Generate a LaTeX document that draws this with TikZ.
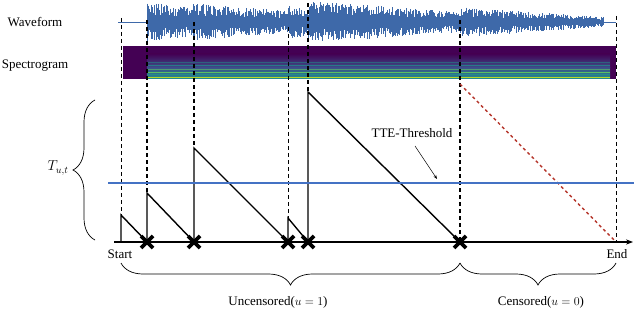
\documentclass[tikz,border=0pt]{standalone}
\usepackage{fontspec}
\setmainfont{Liberation Serif}
\usepackage{xcolor}
\usetikzlibrary{decorations.pathreplacing,arrows.meta}
\definecolor{wave}{HTML}{3E69A9}
\definecolor{specdark}{HTML}{440154}
\definecolor{specblue}{HTML}{3B528B}
\definecolor{specteal}{HTML}{21918C}
\definecolor{specgreen}{HTML}{5EC962}
\definecolor{specyellow}{HTML}{C8E020}
\definecolor{thresh}{HTML}{4472C4}
\definecolor{cens}{HTML}{B5352A}

\begin{document}
\begin{tikzpicture}[x=1pt,y=-1pt,font=\fontsize{13}{15}\selectfont,
  vline/.style={dashed,dash pattern=on 4pt off 3pt,line width=0.8pt},
  vlinethick/.style={vline,line width=1.4pt},
  tooth/.style={line width=1.4pt},
  evt/.style={line width=3.8pt},
  brc/.style={decorate,decoration={brace,amplitude=22pt},line width=0.7pt}]
  \useasboundingbox (0,0) rectangle (634,310);

  % waveform
  \node (wavelbl) at (35,22) {Waveform};
  \draw[wave,line width=0.8pt] (118,22) -- (147,22);
  \draw[wave,line width=0.8pt] (604,22) -- (616,22);
  \pgfmathsetseed{7}
  \foreach \x in {147,147.7,...,604} {
    \pgfmathsetmacro\amp{\x<193 ? 20-6*(\x-147)/46 : (\x<288 ? 19-8*(\x-193)/95 : (\x<308 ? 17-3*(\x-288)/20 : (\x<460 ? 21-11*(\x-308)/152 : 15-10*(\x-460)/144)))}
    \draw[wave,line width=0.6pt] (\x,{22-\amp*(0.35+0.65*rnd)}) -- (\x,{22+\amp*(0.35+0.65*rnd)});
  }

  % spectrogram
  \node (speclbl) at (35,66) {Spectrogram};
  \fill[specdark] (123,46) rectangle (616,79);
  \shade[top color=specdark,bottom color=specblue] (147,54) rectangle (610,68);
  \shade[top color=specblue,bottom color=specteal] (147,68) rectangle (610,79);
  \foreach \y/\c/\o in {63/specteal/0.5,66/specteal/0.7,70/specgreen/0.6,72.5/specgreen/0.9,75/specteal/0.8,77.5/specyellow/0.9} {
    \draw[\c,line width=1pt,opacity=\o] (147,\y) -- (610,\y);
  }

  % onsets
  \draw[vline] (121,18) -- (121,215);
  \draw[vlinethick] (147,20) -- (147,193);
  \draw[vlinethick] (194,22) -- (194,148);
  \draw[vline] (288,27) -- (288,218);
  \draw[vlinethick] (308,3) -- (308,92);
  \draw[vline,line width=1.1pt] (460,20) -- (460,242);
  \draw[vline] (616,16) -- (616,242);

  % time-to-event curve
  \foreach \a/\p/\n in {121/215/147,147/193/194,194/148/288,288/218/308,308/92/460} {
    \coordinate (on\a) at (\a,242);
    \coordinate (pk\a) at (\a,\p);
    \coordinate (ev\a) at (\n,242);
    \draw[tooth] (on\a) -- (pk\a) -- (ev\a);
  }
  \coordinate (cstart) at (460,84);
  \coordinate (cend) at (616,242);
  \draw[cens,dashed,line width=1.4pt] (cstart) -- (cend);

  % threshold
  \draw[thresh,line width=1.5pt] (108,183) -- (634,183);
  \node (tte) at (412,133) {TTE-Threshold};
  \coordinate (ttetip) at (437,179);
  \draw[-{Stealth[length=4pt]},line width=0.5pt] (415,146) -- (ttetip);

  % time axis
  \node (start) at (120,254) {Start};
  \node (end) at (617,254) {End};
  \draw[-{Stealth[length=7pt]},line width=1.8pt] (114,242) -- (633,242);
  \foreach \x in {147,194,288,308,460} {
    \draw[evt] (\x-6,236) -- (\x+6,248);
    \draw[evt] (\x-6,248) -- (\x+6,236);
  }

  % braces
  \draw[brc] (95,240) -- (95,100);
  \node (tut) at (58,168) {\fontsize{14.5}{17}\selectfont$T_{u,t}$};
  \draw[brc] (460,263) -- (121,263);
  \draw[brc] (616,263) -- (460,263);
  \node (unc) at (278,302) {Uncensored($u=1$)};
  \node (cen) at (541,302) {Censored($u=0$)};
\end{tikzpicture}
\end{document}
